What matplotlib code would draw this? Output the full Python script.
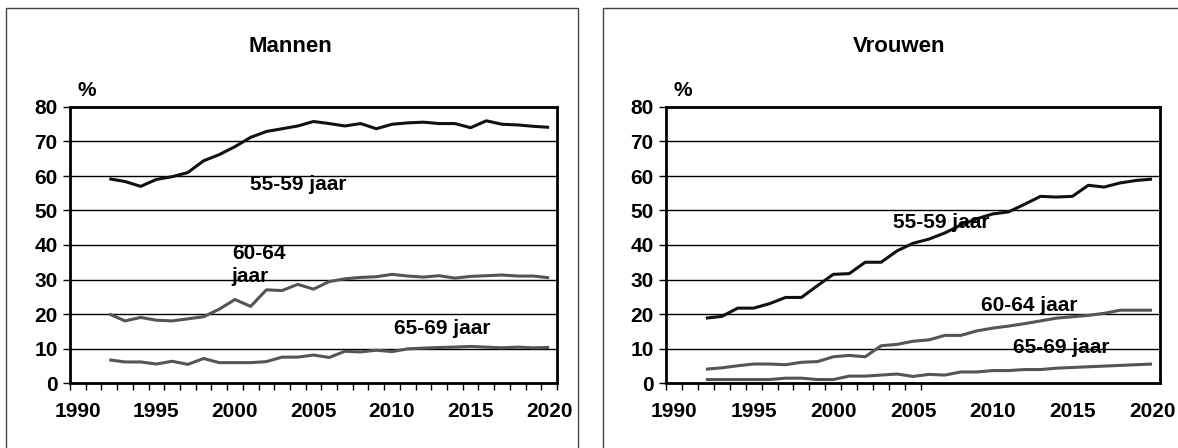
import numpy as np
import matplotlib
matplotlib.use('Agg')
import matplotlib.pyplot as plt
from matplotlib.patches import Rectangle

plt.rcParams['font.family'] = ['Liberation Sans', 'DejaVu Sans']
plt.rcParams['font.weight'] = 'bold'

years = list(range(1992, 2021))

# Mannen
m_55_59 = [59.2, 58.4, 57.0, 59.0, 59.8, 61.0, 64.4, 66.2, 68.5, 71.2, 72.9, 73.7, 74.5, 75.8, 75.2,
           74.5, 75.2, 73.7, 75.0, 75.4, 75.6, 75.2, 75.2, 74.0, 76.0, 75.0, 74.8, 74.4, 74.1]
m_60_64 = [20.0, 18.0, 19.0, 18.2, 18.0, 18.6, 19.2, 21.4, 24.2, 22.2, 27.0, 26.8, 28.6, 27.2, 29.4,
           30.2, 30.6, 30.8, 31.5, 31.0, 30.7, 31.1, 30.4, 30.9, 31.1, 31.3, 31.0, 31.0, 30.5]
m_65_69 = [6.7, 6.1, 6.1, 5.5, 6.3, 5.4, 7.1, 5.9, 5.9, 5.9, 6.2, 7.5, 7.5, 8.1, 7.4,
           9.2, 9.0, 9.5, 9.1, 9.9, 10.1, 10.3, 10.4, 10.6, 10.4, 10.2, 10.4, 10.2, 10.3]

# Vrouwen
v_55_59 = [18.8, 19.3, 21.7, 21.7, 23.0, 24.8, 24.8, 28.2, 31.5, 31.7, 35.0, 35.0, 38.3, 40.5, 41.7,
           43.5, 45.8, 47.6, 49.0, 49.6, 51.8, 54.1, 53.9, 54.1, 57.3, 56.8, 58.0, 58.7, 59.1]
v_60_64 = [4.0, 4.4, 5.0, 5.5, 5.5, 5.3, 6.0, 6.2, 7.6, 8.0, 7.6, 10.8, 11.2, 12.1, 12.5,
           13.8, 13.8, 15.1, 15.9, 16.5, 17.2, 18.0, 18.8, 19.2, 19.6, 20.2, 21.1, 21.1, 21.1]
v_65_69 = [1.0, 1.0, 1.0, 1.0, 1.0, 1.4, 1.4, 1.0, 1.0, 2.0, 2.0, 2.3, 2.6, 1.9, 2.5,
           2.3, 3.2, 3.2, 3.6, 3.6, 3.9, 3.9, 4.3, 4.5, 4.7, 4.9, 5.1, 5.3, 5.5]

year_labels = [1990, 1995, 2000, 2005, 2010, 2015, 2020]
y_ticks = [0, 10, 20, 30, 40, 50, 60, 70, 80]

W, H = 1178, 448
fig = plt.figure(figsize=(W / 100, H / 100), dpi=100)

# panel borders (pixel coords)
for x0, x1 in [(6, 578), (603, 1190)]:
    fig.patches.append(Rectangle((x0 / W, -0.1), (x1 - x0) / W, (H - 8) / H + 0.1,
                                 transform=fig.transFigure, fill=False,
                                 edgecolor='#444444', linewidth=1.0))


def make_panel(left, right, title, title_x, pct_x, series, labels, n_minor):
    ax = fig.add_axes([left / W, (H - 383) / H, (right - left) / W, 276 / H])
    black, grey = '#111111', '#555555'
    colors = [black, grey, grey]
    for vals, c in zip(series, colors):
        ax.plot(years, vals, color=c, linewidth=2.2, solid_capstyle='butt', zorder=3)
    ax.set_xlim(1989.5, 2020.5)
    ax.set_ylim(0, 80)
    ax.set_yticks(y_ticks)
    ax.set_xticks(year_labels)
    ax.set_xticks(np.arange(1989.5, 1989.5 + n_minor), minor=True)
    ax.tick_params(axis='x', which='major', length=0, pad=14, labelsize=15)
    ax.tick_params(axis='x', which='minor', length=5, width=1.0, direction='out')
    ax.tick_params(axis='y', length=5, width=1.0, direction='out', pad=4, labelsize=15)
    ax.grid(axis='y', color='black', linewidth=1.0)
    ax.set_axisbelow(True)
    for s in ax.spines.values():
        s.set_linewidth(2.0)
        s.set_color('black')
    for lab in ax.get_xticklabels() + ax.get_yticklabels():
        lab.set_fontweight('bold')
    fig.text(title_x / W, 1 - 46 / H, title, ha='center', va='center', fontsize=16, fontweight='bold')
    fig.text(pct_x / W, 1 - 91 / H, '%', ha='center', va='center', fontsize=15, fontweight='bold')
    for txt, x, y, ha in labels:
        ax.text(x, y, txt, ha=ha, va='center', fontsize=15, fontweight='bold',
                linespacing=1.3, zorder=4)
    return ax


make_panel(70, 557, 'Mannen', 290, 87, [m_55_59, m_60_64, m_65_69],
           [('55-59 jaar', 2004.0, 57.4, 'center'),
            ('60-64\njaar', 1999.8, 34.2, 'left'),
            ('65-69 jaar', 2013.2, 15.9, 'center')], 32)

make_panel(666, 1160, 'Vrouwen', 899, 683, [v_55_59, v_60_64, v_65_69],
           [('55-59 jaar', 2006.8, 46.4, 'center'),
            ('60-64 jaar', 2012.3, 22.6, 'center'),
            ('65-69 jaar', 2014.3, 10.4, 'center')], 17)

plt.savefig('out.png', dpi=100)
